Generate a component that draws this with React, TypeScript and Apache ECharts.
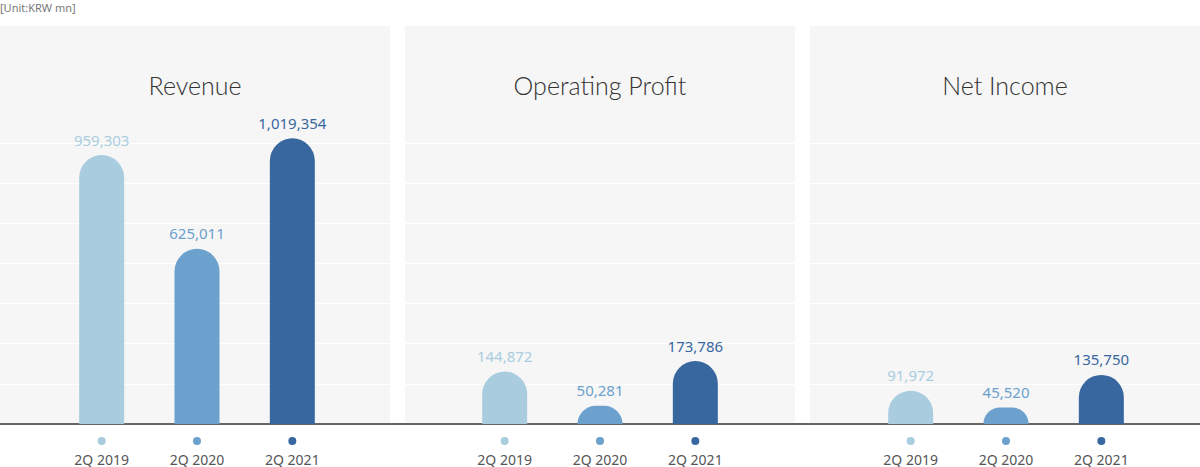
import React, { useEffect, useRef } from "react";
import * as echarts from "echarts";

const categories = ["2Q 2019", "2Q 2020", "2Q 2021"];
const revenue = [959303, 625011, 1019354];
const operatingProfit = [144872, 50281, 173786];
const netIncome = [91972, 45520, 135750];
const panelTitles = ["Revenue", "Operating Profit", "Net Income"];
const unitText = "[Unit:KRW mn]";

const colors = ["#a9cddf", "#6ca1cd", "#3867a0"];
const FONT = "'Noto Sans', 'Open Sans', sans-serif";

export default function App() {
  const ref = useRef<HTMLDivElement>(null);
  useEffect(() => {
    document.body.style.margin = "0";
    if (!ref.current) return;
    const chart = echarts.init(ref.current, undefined, { renderer: "svg" });

    const panelLefts = [0, 405, 810];
    const panelW = 390;
    const barGridLefts = [54, 457, 863];
    const barGridW = 286;
    const seriesData = [revenue, operatingProfit, netIncome];
    const maxes = [1420000, 1100000, 1100000];

    const rich: any = {
      l: { fontSize: 14, color: "#555", lineHeight: 14, fontFamily: FONT },
    };
    colors.forEach((c, i) => {
      rich["d" + i] = { width: 8, height: 8, borderRadius: 4, backgroundColor: c, lineHeight: 22 };
    });

    const grids: any[] = [
      { left: 0, width: 1200, top: 143, height: 281, outerBoundsMode: "none", containLabel: false },
    ];
    const xAxes: any[] = [
      {
        gridIndex: 0,
        type: "value",
        min: 0,
        max: 1,
        axisLine: { show: true, lineStyle: { color: "#666", width: 2 } },
        axisTick: { show: false },
        axisLabel: { show: false },
        splitLine: { show: false },
      },
    ];
    const yAxes: any[] = [
      {
        gridIndex: 0,
        type: "value",
        min: 0,
        max: 7,
        interval: 1,
        axisLine: { show: false },
        axisTick: { show: false },
        axisLabel: { show: false },
        splitLine: { show: true, lineStyle: { color: "#ffffff", width: 1 } },
      },
    ];
    const series: any[] = [];

    seriesData.forEach((vals, p) => {
      const gi = p + 1;
      grids.push({ left: barGridLefts[p], width: barGridW, top: 26, height: 398, outerBoundsMode: "none", containLabel: false });
      xAxes.push({
        gridIndex: gi,
        type: "category",
        data: categories,
        axisLine: { show: false },
        axisTick: { show: false },
        splitLine: { show: false },
        axisLabel: {
          margin: 6,
          interval: 0,
          formatter: (v: string, i: number) => `{d${i}|}\n{l|${v}}`,
          rich,
        },
      });
      yAxes.push({
        gridIndex: gi,
        type: "value",
        min: 0,
        max: maxes[p],
        show: false,
        splitLine: { show: false },
      });
      series.push({
        type: "bar",
        xAxisIndex: gi,
        yAxisIndex: gi,
        barWidth: 45,
        z: 3,
        data: vals.map((v, i) => ({
          value: v,
          itemStyle: { color: colors[i], borderRadius: [22.5, 22.5, 0, 0] },
          label: { color: colors[i] },
        })),
        label: {
          show: true,
          position: "top",
          distance: 8,
          fontSize: 15,
          fontFamily: FONT,
          formatter: (pp: any) => Number(pp.value).toLocaleString("en-US"),
        },
      });
    });

    const titles: any[] = [
      {
        text: unitText,
        left: 0,
        top: 1,
        padding: 0,
        textStyle: { fontSize: 11, lineHeight: 12, color: "#777", fontWeight: "normal", fontFamily: FONT },
      },
    ];
    panelTitles.forEach((t, p) => {
      titles.push({
        text: t,
        left: panelLefts[p] + panelW / 2,
        top: 72,
        padding: 0,
        textAlign: "center",
        textStyle: { fontSize: 25, color: "#333", fontWeight: 300, fontFamily: "Lato, 'Open Sans', sans-serif" },
      });
    });

    chart.setOption({
      animation: false,
      title: titles,
      graphic: {
        elements: panelLefts.map((x) => ({
          type: "rect",
          silent: true,
          z: -10,
          shape: { x, y: 26, width: panelW, height: 398 },
          style: { fill: "#f6f6f6" },
        })),
      },
      grid: grids,
      xAxis: xAxes,
      yAxis: yAxes,
      series,
    });
    return () => chart.dispose();
  }, []);
  return <div ref={ref} style={{ width: 1200, height: 467 }} />;
}
